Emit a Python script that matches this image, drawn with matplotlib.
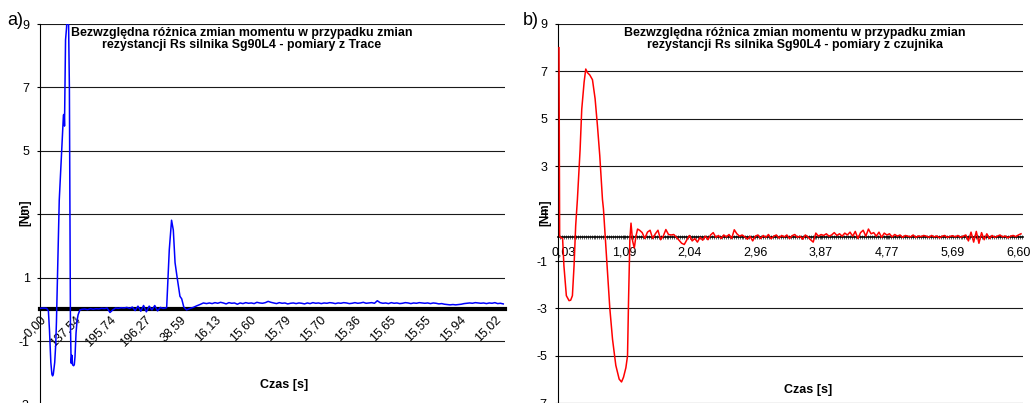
import numpy as np
import matplotlib
matplotlib.use('Agg')
import matplotlib.pyplot as plt
from matplotlib.ticker import MultipleLocator
import matplotlib.transforms as mtransforms

plt.rcParams['font.family'] = ['Liberation Sans', 'DejaVu Sans']
plt.rcParams['axes.unicode_minus'] = False

# ---- panel a) : Trace (sample index, value) ----
trace_head_x = [0, 10, 19, 24, 27, 31, 34, 36, 38, 42, 45, 47, 49, 52, 55, 62, 67, 69,
                70, 73, 76, 79, 81, 84, 86, 87, 89, 91, 93, 96, 98, 100, 103, 106, 109, 114]
trace_head_y = [0.03, 0.04, 0.03, -0.05, -0.64, -1.68, -2.05, -2.1, -2.05, -1.68, -1.1, -0.4,
                0.6, 2.0, 3.44, 4.97, 6.13, 6.15, 5.78, 8.5, 8.9, 9.6, 9.6, 7.0, 2.0, -0.5,
                -1.7, -1.45, -1.75, -1.78, -1.75, -1.5, -0.75, -0.35, -0.17, -0.02]
# every 8 samples from 120
trace_mid_y = [0.0, 0.01, -0.01, 0.02, 0.0, 0.02, 0.01, 0.03, 0.02, 0.04, -0.1, -0.02, 0.04,
               0.03, 0.05, 0.04, 0.06, 0.03, 0.07, -0.04, 0.1, -0.06, 0.12, -0.08, 0.1, -0.02,
               0.12, -0.05, 0.06, 0.03]
trace_peak_x = [357, 362, 369.5, 376, 381, 386, 392, 400, 405, 411, 419, 429, 438, 448, 457, 467, 476]
trace_peak_y = [0.04, 0.05, 1.88, 2.81, 2.5, 1.47, 1.0, 0.41, 0.33, 0.07, -0.02, 0.03, 0.06,
                0.11, 0.15, 0.2, 0.18]
# every 8 samples from 484
trace_tail_y = [0.20, 0.18, 0.21, 0.19, 0.22, 0.20, 0.17, 0.21, 0.19, 0.20, 0.16, 0.20, 0.18, 0.21,
                0.19, 0.20, 0.18, 0.22, 0.20, 0.19,
                0.21, 0.25, 0.22, 0.20, 0.18, 0.21, 0.19, 0.20, 0.17, 0.19, 0.20, 0.18, 0.20, 0.19,
                0.17, 0.20, 0.18, 0.21, 0.19, 0.20,
                0.18, 0.20, 0.19, 0.21, 0.20, 0.18, 0.20, 0.19, 0.21, 0.20, 0.18, 0.19, 0.21, 0.19,
                0.20, 0.22, 0.19, 0.20, 0.21, 0.19,
                0.27, 0.21, 0.19, 0.20, 0.18, 0.21, 0.19, 0.20, 0.18, 0.19, 0.21, 0.20, 0.18, 0.20,
                0.19, 0.21, 0.20, 0.19, 0.20, 0.18,
                0.20, 0.19, 0.17, 0.18, 0.16, 0.15, 0.14, 0.15, 0.14, 0.15, 0.16, 0.18, 0.19, 0.20,
                0.19, 0.21, 0.20, 0.19, 0.20, 0.18,
                0.20, 0.19, 0.21, 0.18, 0.19, 0.17]
trace_labels = ['-0,00', '137,54', '195,74', '196,27', '38,59', '16,13', '15,60', '15,79',
                '15,70', '15,36', '15,65', '15,55', '15,94', '15,02']
trace_n = 1329

# ---- panel b) : sensor (sample index, value) ----
sensor_head_x = [1.5, 2.5, 4, 7, 9, 12.7, 16.8, 19.3, 21.9, 24.4, 26.9, 29.5, 33.6, 36.1, 39.7, 42.2,
                 44.7, 48.3, 52.4, 56.4, 60, 63.5, 67.6, 69.1, 71.7, 75.2, 78.8, 82.9, 87.9, 93,
                 96.6, 99.6, 103.2, 105.7, 107.3, 109.3, 111, 113.4, 116, 118.5, 121]
sensor_head_y = [8.0, 0.05, 0.0, -0.05, -1.2, -2.46, -2.67, -2.65, -2.46, -1.2, 0.5, 1.6, 3.7,
                 5.4, 6.55, 7.1, 6.95, 6.85, 6.65, 5.85, 4.7, 3.45, 1.6, 1.2, 0.07, -1.47, -3.0,
                 -4.3, -5.4, -5.98, -6.1, -5.9, -5.5, -5.0, -2.6, -0.07, 0.6, -0.15, -0.45, 0.05, 0.35]
# every 4 samples from 124
sensor_tail_y = [0.3, 0.2, -0.05, 0.22, 0.3, -0.05, 0.15, 0.3, -0.1, 0.05, 0.33, 0.12, 0.1, 0.12,
                 0.0, -0.12, -0.25, -0.3, -0.1, 0.08, -0.15, -0.05, -0.2, 0.0, -0.12, 0.05, -0.1,
                 0.1, 0.2,
                 0.0, 0.08, -0.05, 0.1, 0.02, 0.12, -0.05, 0.32, 0.15, 0.05, 0.1, 0.02, -0.08,
                 0.05, -0.15, 0.05,
                 0.1, -0.05, 0.08, 0.0, 0.12, -0.06, 0.05, 0.1, -0.03, 0.08, 0.02, 0.1, -0.05,
                 0.07, 0.12, 0.0, 0.05, -0.08, 0.1, 0.02, -0.1, -0.2,
                 0.18, 0.05, 0.12, 0.08, 0.15, 0.05, 0.1, 0.2, 0.08, 0.15, 0.05, 0.18, 0.1, 0.22,
                 0.05, 0.25, -0.05, 0.2, 0.3, 0.05, 0.35, 0.15,
                 0.2, 0.05, 0.22, 0.0, 0.18, 0.1, 0.15, 0.02, 0.12, 0.05, 0.1, 0.0, 0.08, 0.05,
                 0.02, 0.1, 0.0, 0.06, 0.03, 0.08,
                 0.05, 0.0, 0.08, 0.02, 0.06, -0.02, 0.05, 0.08, 0.0, 0.04, 0.07, 0.02, 0.08, 0.0,
                 0.05, 0.1,
                 -0.15, 0.22, -0.2, 0.25, -0.25, 0.2, -0.1, 0.15, -0.05,
                 0.08, 0.0, 0.05, 0.1, 0.02, 0.06, -0.02, 0.05, 0.08, 0.03, 0.1, 0.15]
sensor_labels = ['0,03', '1,09', '2,04', '2,96', '3,87', '4,77', '5,69', '6,60']
sensor_n = 707

title_a = 'Bezwzględna różnica zmian momentu w przypadku zmian\nrezystancji Rs silnika Sg90L4 - pomiary z Trace'
title_b = 'Bezwzględna różnica zmian momentu w przypadku zmian\nrezystancji Rs silnika Sg90L4 - pomiary z czujnika'

# assemble series
trace_x = np.concatenate([trace_head_x, 120 + 8 * np.arange(len(trace_mid_y)),
                          trace_peak_x, 484 + 8 * np.arange(len(trace_tail_y))])
trace_y = np.concatenate([trace_head_y, trace_mid_y, trace_peak_y, trace_tail_y])
sensor_x = np.concatenate([sensor_head_x, 124 + 4 * np.arange(len(sensor_tail_y))])
sensor_y = np.concatenate([sensor_head_y, sensor_tail_y])

W, H = 1030, 403
fig = plt.figure(figsize=(W / 100, H / 100), dpi=100)


def px_box(x0, x1, ytop, ybot):
    return [x0 / W, 1 - ybot / H, (x1 - x0) / W, (ybot - ytop) / H]


def style(ax, ylo, yhi):
    yt = np.arange(yhi, ylo - 1, -2)
    ax.set_ylim(ylo, yhi)
    ax.set_yticks(yt)
    ax.set_yticklabels([str(v) for v in yt])
    ax.grid(axis='y', color='#1a1a1a', lw=0.8)
    ax.spines['top'].set_visible(False)
    ax.spines['right'].set_visible(False)
    ax.spines['left'].set_linewidth(0.8)
    ax.spines['bottom'].set_position(('data', 0))
    ax.tick_params(axis='y', direction='out', length=2.5, width=0.8, pad=5, labelsize=9)


axA = fig.add_axes(px_box(40, 505, 24, 404.4))
style(axA, -3, 9)
axA.plot(trace_x, trace_y, color='#0000ff', lw=1.1, zorder=3)
axA.set_xlim(0, trace_n)
axA.set_xticks(np.arange(len(trace_labels)) * 100)
axA.set_xticklabels(trace_labels, rotation=45, ha='right', va='top', rotation_mode='anchor')
axA.tick_params(axis='x', length=0, pad=3, labelsize=9)
axA.spines['bottom'].set_linewidth(3)

axB = fig.add_axes(px_box(558, 1023, 24, 403.3))
style(axB, -7, 9)
axB.plot(sensor_x, sensor_y, color='#ff0000', lw=1.1, zorder=3)
axB.set_xlim(0, sensor_n)
axB.set_xticks(np.arange(len(sensor_labels)) * 100)
axB.set_xticklabels(sensor_labels)
axB.xaxis.set_minor_locator(MultipleLocator(3))
axB.tick_params(axis='x', which='both', direction='inout', length=3.5, width=0.6,
                color='#444444', pad=5, labelsize=9)
axB.spines['bottom'].set_linewidth(1.2)
off = mtransforms.ScaledTranslation(6 / 100, 0, fig.dpi_scale_trans)
lbl = axB.get_xticklabels()[0]
lbl.set_transform(lbl.get_transform() + off)

# texts
fig.text(242 / W, 1 - 27 / H, title_a, ha='center', va='top', fontsize=8.9,
         fontweight='bold', linespacing=1.05)
fig.text(795 / W, 1 - 27 / H, title_b, ha='center', va='top', fontsize=8.9,
         fontweight='bold', linespacing=1.05)
fig.text(284 / W, 1 - 385 / H, 'Czas [s]', ha='center', va='center', fontsize=9, fontweight='bold')
fig.text(808 / W, 1 - 390 / H, 'Czas [s]', ha='center', va='center', fontsize=9, fontweight='bold')
fig.text(25 / W, 1 - 213 / H, '[Nm]', ha='center', va='center', rotation=90, fontsize=8.5,
         fontweight='bold')
fig.text(545 / W, 1 - 213 / H, '[Nm]', ha='center', va='center', rotation=90, fontsize=8.5,
         fontweight='bold')
fig.text(7 / W, 1 - 25 / H, 'a)', ha='left', va='baseline', fontsize=13)
fig.text(523 / W, 1 - 25 / H, 'b)', ha='left', va='baseline', fontsize=13)

fig.savefig('out.png', dpi=100)
